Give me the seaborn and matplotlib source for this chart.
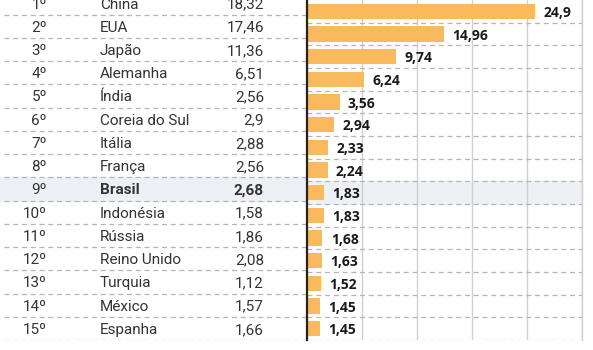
import matplotlib
matplotlib.use("Agg")
import matplotlib.pyplot as plt
import seaborn as sns

# ====================== DATA ======================
ranks = ["1º", "2º", "3º", "4º", "5º", "6º", "7º", "8º", "9º", "10º",
         "11º", "12º", "13º", "14º", "15º"]
countries = ["China", "EUA", "Japão", "Alemanha", "Índia", "Coreia do Sul",
             "Itália", "França", "Brasil", "Indonésia", "Rússia",
             "Reino Unido", "Turquia", "México", "Espanha"]
table_values = ["18,32", "17,46", "11,36", "6,51", "2,56", "2,9", "2,88",
                "2,56", "2,68", "1,58", "1,86", "2,08", "1,12", "1,57", "1,66"]
bar_values = [24.9, 14.96, 9.74, 6.24, 3.56, 2.94, 2.33, 2.24, 1.83, 1.83,
              1.68, 1.63, 1.52, 1.45, 1.45]
highlight = "Brasil"
x_ticks = [0, 6, 12, 18, 24, 30]

# ====================== STYLE ======================
sns.set_style("white")
plt.rcParams["font.family"] = ["Roboto", "DejaVu Sans"]

BAR_COLOR = "#F8BA5C"
BAND_COLOR = "#EDF1F5"
DASH_COLOR = "#B5B5B5"
GRID_COLOR = "#CFCFCF"
TEXT_COLOR = "#333333"

W, H = 593, 350
fig = plt.figure(figsize=(W / 100, H / 100), dpi=100)

bottom_px = 10
split_px = 307
right_px = 582
ylim = (len(countries) - 0.5, -0.13)
hi = countries.index(highlight)

# left table axes
ax_t = fig.add_axes([0, bottom_px / H, split_px / W, 1 - bottom_px / H])
ax_t.set_xlim(0, split_px)
ax_t.set_ylim(*ylim)
ax_t.axis("off")
ax_t.axhspan(hi - 0.5, hi + 0.5, color=BAND_COLOR, zorder=0)
for i in range(len(countries)):
    ax_t.axhline(i + 0.5, xmin=4 / split_px, color=DASH_COLOR, lw=0.9,
                 ls=(0, (4, 3)), zorder=1)
    weight = "bold" if countries[i] == highlight else "normal"
    ax_t.text(47, i, ranks[i], ha="right", va="center_baseline", fontsize=11,
              color=TEXT_COLOR)
    ax_t.text(100, i, countries[i], ha="left", va="center_baseline", fontsize=11,
              color=TEXT_COLOR, fontweight=weight)
    ax_t.text(264, i, table_values[i], ha="right", va="center_baseline",
              fontsize=11, color=TEXT_COLOR, fontweight=weight)

# right bar axes
ax_b = fig.add_axes([split_px / W, bottom_px / H, (right_px - split_px) / W,
                     1 - bottom_px / H])
ax_b.axhspan(hi - 0.5, hi + 0.5, color=BAND_COLOR, zorder=0)
sns.barplot(x=bar_values, y=countries, orient="h", color=BAR_COLOR,
            saturation=1, width=0.68, linewidth=0, ax=ax_b, zorder=3)
ax_b.set_xlim(x_ticks[0], x_ticks[-1])
ax_b.set_ylim(*ylim)
ax_b.set_xticks(x_ticks)
ax_b.set_xticklabels([])
ax_b.tick_params(axis="x", length=0)
ax_b.set_yticks([i + 0.5 for i in range(-1, len(countries))])
ax_b.set_yticklabels([])
ax_b.tick_params(axis="y", length=3, width=1.2, color="#2B2118", direction="inout")
ax_b.set_xlabel("")
ax_b.set_ylabel("")
ax_b.grid(axis="x", color=GRID_COLOR, lw=1.0)
ax_b.set_axisbelow(True)
for i in range(len(countries)):
    ax_b.axhline(i + 0.5, color=DASH_COLOR, lw=0.9, ls=(0, (4, 3)), zorder=1)
for side in ["top", "bottom"]:
    ax_b.spines[side].set_visible(False)
ax_b.spines["left"].set_color("#2B2118")
ax_b.spines["left"].set_linewidth(1.6)
ax_b.spines["left"].set_zorder(5)
ax_b.spines["right"].set_color(GRID_COLOR)
ax_b.spines["right"].set_linewidth(1.0)

labels = [str(v).replace(".", ",") for v in bar_values]
texts = ax_b.bar_label(ax_b.containers[0], labels=labels, padding=6,
                       fontsize=10, fontweight="bold", color="#1A1A1A",
                       family=["Open Sans", "DejaVu Sans"])
for t in texts:
    t.set_verticalalignment("center_baseline")

fig.savefig("out.png", dpi=100)
